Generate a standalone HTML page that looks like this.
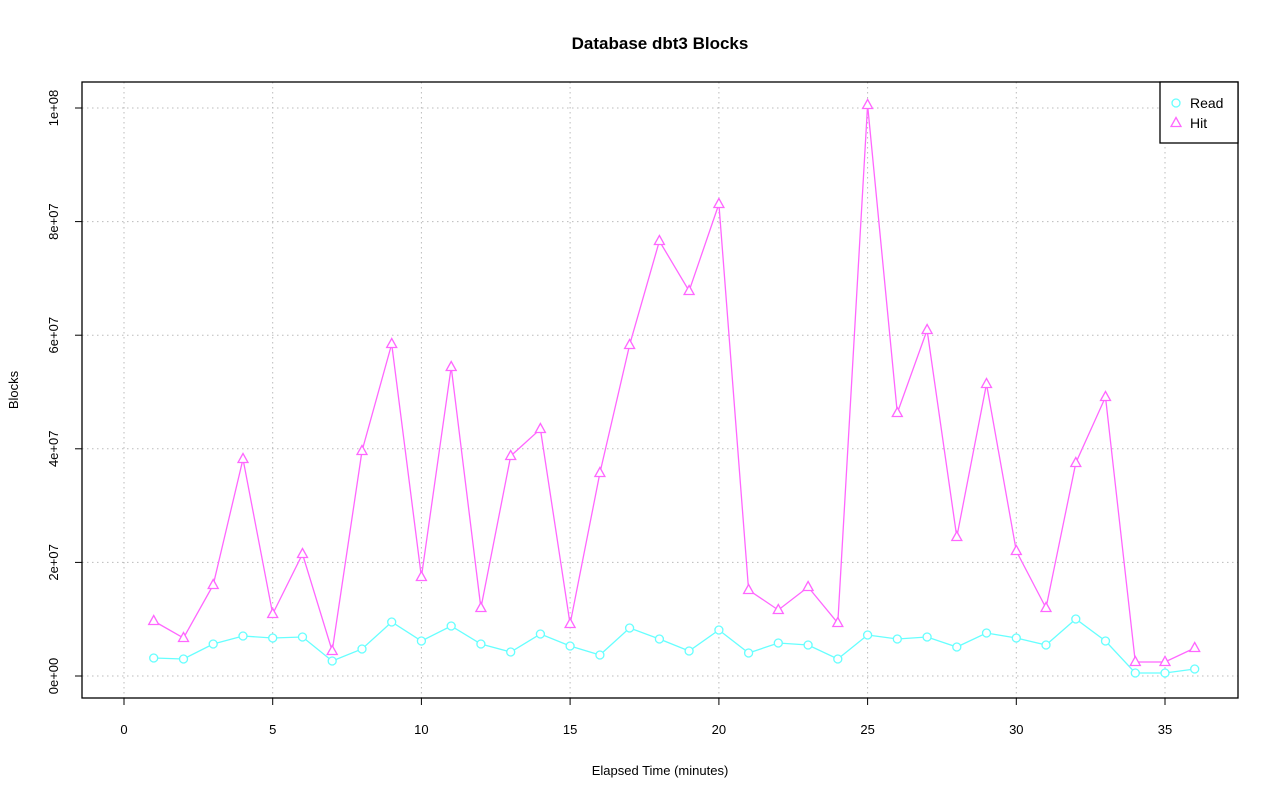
<!DOCTYPE html>
<html><head><meta charset="utf-8"><style>body{margin:0;background:#fff}svg{display:block}</style></head><body>
<svg width="1280" height="801" xmlns="http://www.w3.org/2000/svg" font-family="Liberation Sans, sans-serif">
<defs>
<circle id="c" r="4" fill="#fff" stroke="#66ffff" stroke-width="1.3"/>
<path id="t" d="M0,-5.5 L5,3.5 L-5,3.5 Z" fill="#fff" stroke="#ff66ff" stroke-width="1.3"/>
</defs>
<text x="660" y="49" text-anchor="middle" font-size="17" font-weight="bold">Database dbt3 Blocks</text>
<g stroke="#bbb" stroke-dasharray="1.5,3.5" stroke-width="1">
<line x1="124" y1="82" x2="124" y2="698"/><line x1="272.7" y1="82" x2="272.7" y2="698"/><line x1="421.4" y1="82" x2="421.4" y2="698"/><line x1="570.1" y1="82" x2="570.1" y2="698"/><line x1="718.9" y1="82" x2="718.9" y2="698"/><line x1="867.6" y1="82" x2="867.6" y2="698"/><line x1="1016.3" y1="82" x2="1016.3" y2="698"/><line x1="1165" y1="82" x2="1165" y2="698"/>
<line x1="82" y1="676" x2="1238" y2="676"/><line x1="82" y1="562.4" x2="1238" y2="562.4"/><line x1="82" y1="448.8" x2="1238" y2="448.8"/><line x1="82" y1="335.2" x2="1238" y2="335.2"/><line x1="82" y1="221.6" x2="1238" y2="221.6"/><line x1="82" y1="108" x2="1238" y2="108"/>
</g>
<rect x="82" y="82" width="1156" height="616" fill="none" stroke="#000" stroke-width="1.3"/>
<g stroke="#000"><line x1="124" y1="698" x2="1165" y2="698"/>
<line x1="124" y1="698" x2="124" y2="705"/><line x1="272.7" y1="698" x2="272.7" y2="705"/><line x1="421.4" y1="698" x2="421.4" y2="705"/><line x1="570.1" y1="698" x2="570.1" y2="705"/><line x1="718.9" y1="698" x2="718.9" y2="705"/><line x1="867.6" y1="698" x2="867.6" y2="705"/><line x1="1016.3" y1="698" x2="1016.3" y2="705"/><line x1="1165" y1="698" x2="1165" y2="705"/>
<line x1="82" y1="108" x2="82" y2="676"/>
<line x1="75" y1="676" x2="82" y2="676"/><line x1="75" y1="562.4" x2="82" y2="562.4"/><line x1="75" y1="448.8" x2="82" y2="448.8"/><line x1="75" y1="335.2" x2="82" y2="335.2"/><line x1="75" y1="221.6" x2="82" y2="221.6"/><line x1="75" y1="108" x2="82" y2="108"/></g>
<g font-size="13" text-anchor="middle">
<text x="124" y="734">0</text><text x="272.7" y="734">5</text><text x="421.4" y="734">10</text><text x="570.1" y="734">15</text><text x="718.9" y="734">20</text><text x="867.6" y="734">25</text><text x="1016.3" y="734">30</text><text x="1165" y="734">35</text>
<text transform="translate(58,676) rotate(-90)">0e+00</text><text transform="translate(58,562.4) rotate(-90)">2e+07</text><text transform="translate(58,448.8) rotate(-90)">4e+07</text><text transform="translate(58,335.2) rotate(-90)">6e+07</text><text transform="translate(58,221.6) rotate(-90)">8e+07</text><text transform="translate(58,108) rotate(-90)">1e+08</text>
<text x="660" y="775">Elapsed Time (minutes)</text>
<text transform="translate(18,390) rotate(-90)">Blocks</text>
</g>
<polyline fill="none" stroke="#66ffff" stroke-width="1.3" points="153.7,658 183.5,659 213.2,644 243,636 272.7,638 302.5,637 332.2,661 362,649 391.7,622 421.4,641 451.2,626 480.9,644 510.7,652 540.4,634 570.1,646 599.9,655 629.6,628 659.4,639 689.1,651 718.9,630 748.6,653 778.3,643 808.1,645 837.8,659 867.6,635 897.3,639 927.1,637 956.8,647 986.5,633 1016.3,638 1046,645 1075.8,619 1105.5,641 1135.3,673 1165,673 1194.7,669"/>
<polyline fill="none" stroke="#ff66ff" stroke-width="1.3" points="153.7,621 183.5,638 213.2,585 243,459 272.7,614 302.5,554 332.2,651 362,451 391.7,344 421.4,577 451.2,367 480.9,608 510.7,456 540.4,429 570.1,624 599.9,473 629.6,345 659.4,241 689.1,291 718.9,204 748.6,590 778.3,610 808.1,587 837.8,623 867.6,105 897.3,413 927.1,330 956.8,537 986.5,384 1016.3,551 1046,608 1075.8,463 1105.5,397 1135.3,662 1165,662 1194.7,648"/>
<g>
<use href="#c" x="153.7" y="658"/><use href="#c" x="183.5" y="659"/><use href="#c" x="213.2" y="644"/><use href="#c" x="243" y="636"/><use href="#c" x="272.7" y="638"/><use href="#c" x="302.5" y="637"/><use href="#c" x="332.2" y="661"/><use href="#c" x="362" y="649"/><use href="#c" x="391.7" y="622"/><use href="#c" x="421.4" y="641"/><use href="#c" x="451.2" y="626"/><use href="#c" x="480.9" y="644"/><use href="#c" x="510.7" y="652"/><use href="#c" x="540.4" y="634"/><use href="#c" x="570.1" y="646"/><use href="#c" x="599.9" y="655"/><use href="#c" x="629.6" y="628"/><use href="#c" x="659.4" y="639"/><use href="#c" x="689.1" y="651"/><use href="#c" x="718.9" y="630"/><use href="#c" x="748.6" y="653"/><use href="#c" x="778.3" y="643"/><use href="#c" x="808.1" y="645"/><use href="#c" x="837.8" y="659"/><use href="#c" x="867.6" y="635"/><use href="#c" x="897.3" y="639"/><use href="#c" x="927.1" y="637"/><use href="#c" x="956.8" y="647"/><use href="#c" x="986.5" y="633"/><use href="#c" x="1016.3" y="638"/><use href="#c" x="1046" y="645"/><use href="#c" x="1075.8" y="619"/><use href="#c" x="1105.5" y="641"/><use href="#c" x="1135.3" y="673"/><use href="#c" x="1165" y="673"/><use href="#c" x="1194.7" y="669"/>
<use href="#t" x="153.7" y="621"/><use href="#t" x="183.5" y="638"/><use href="#t" x="213.2" y="585"/><use href="#t" x="243" y="459"/><use href="#t" x="272.7" y="614"/><use href="#t" x="302.5" y="554"/><use href="#t" x="332.2" y="651"/><use href="#t" x="362" y="451"/><use href="#t" x="391.7" y="344"/><use href="#t" x="421.4" y="577"/><use href="#t" x="451.2" y="367"/><use href="#t" x="480.9" y="608"/><use href="#t" x="510.7" y="456"/><use href="#t" x="540.4" y="429"/><use href="#t" x="570.1" y="624"/><use href="#t" x="599.9" y="473"/><use href="#t" x="629.6" y="345"/><use href="#t" x="659.4" y="241"/><use href="#t" x="689.1" y="291"/><use href="#t" x="718.9" y="204"/><use href="#t" x="748.6" y="590"/><use href="#t" x="778.3" y="610"/><use href="#t" x="808.1" y="587"/><use href="#t" x="837.8" y="623"/><use href="#t" x="867.6" y="105"/><use href="#t" x="897.3" y="413"/><use href="#t" x="927.1" y="330"/><use href="#t" x="956.8" y="537"/><use href="#t" x="986.5" y="384"/><use href="#t" x="1016.3" y="551"/><use href="#t" x="1046" y="608"/><use href="#t" x="1075.8" y="463"/><use href="#t" x="1105.5" y="397"/><use href="#t" x="1135.3" y="662"/><use href="#t" x="1165" y="662"/><use href="#t" x="1194.7" y="648"/>
</g>
<rect x="1160" y="82" width="78" height="61" fill="#fff" stroke="#000" stroke-width="1.3"/>
<use href="#c" x="1176" y="103"/><use href="#t" x="1176" y="123"/>
<text x="1190" y="108" font-size="14">Read</text><text x="1190" y="128" font-size="14">Hit</text>
</svg>
</body></html>
